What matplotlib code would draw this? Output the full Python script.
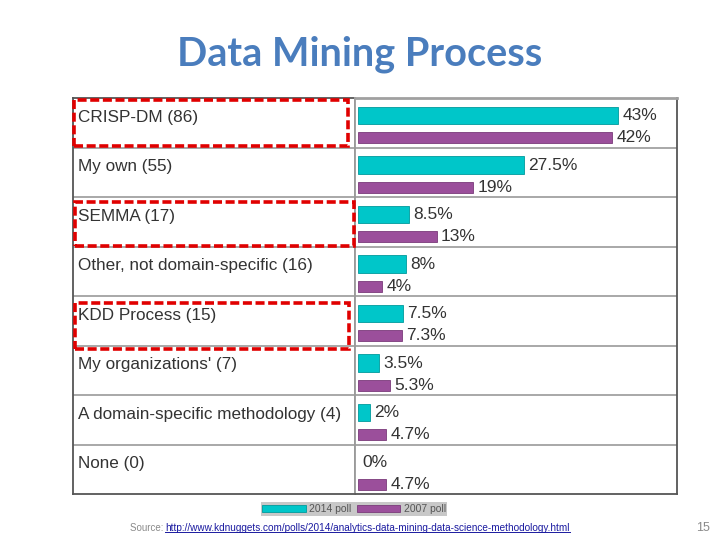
import matplotlib.pyplot as plt
from matplotlib.patches import Rectangle
from matplotlib.lines import Line2D

methods = ["CRISP-DM (86)", "My own (55)", "SEMMA (17)", "Other, not domain-specific (16)",
           "KDD Process (15)", "My organizations' (7)", "A domain-specific methodology (4)", "None (0)"]
poll_2014 = [43, 27.5, 8.5, 8, 7.5, 3.5, 2, 0]
poll_2007 = [42, 19, 13, 4, 7.3, 5.3, 4.7, 4.7]

TEAL = "#00c6c9"
PURPLE = "#9b4f9b"
TXT = "#333333"
W, H = 720, 540

fig = plt.figure(figsize=(7.2, 5.4), dpi=100)
fig.patch.set_facecolor("white")


def fx(px):
    return px / W


def fy(py):
    return 1 - py / H


top, bot = 98, 494
ax_lab = fig.add_axes([fx(73), fy(bot), fx(355 - 73), (bot - top) / H])
ax = fig.add_axes([fx(355), fy(bot), fx(677 - 355), (bot - top) / H])

n = len(methods)
for a in (ax_lab, ax):
    a.set_ylim(n, 0)
    a.set_xticks([])
    a.set_yticks([])
    for s in a.spines.values():
        s.set_color("#555555")
        s.set_linewidth(1.3)
    for i in range(1, n):
        a.axhline(i, color="#9a9a9a", lw=1.2)
ax_lab.set_xlim(0, 1)
ax_lab.spines["right"].set_color("#9a9a9a")
ax.spines["left"].set_color("#9a9a9a")
ax.spines["top"].set_color("#a0a0a0")
ax.spines["top"].set_linewidth(2)

# 6.05 px per percent, bars start 3px into the column
ppu = 6.05
ax.set_xlim(-3 / ppu, (677 - 355) / ppu - 3 / ppu)

rows = list(range(n))
b1 = ax.barh([r + 0.355 for r in rows], poll_2014, height=0.35, color=TEAL,
             edgecolor="#009a9c", lw=0.6, label="2014 poll")
b2 = ax.barh([r + 0.80 for r in rows], poll_2007, height=0.22, color=PURPLE,
             edgecolor="#7a3a7a", lw=0.6, label="2007 poll")
for rect, v in zip(b1, poll_2014):
    if v == 0:
        rect.set_linewidth(0)

for r, v in zip(rows, poll_2014):
    ax.text(v + 0.7, r + 0.355, f"{v:g}%", va="center", ha="left", fontsize=12.5,
            color=TXT, family="Liberation Sans")
for r, v in zip(rows, poll_2007):
    ax.text(v + 0.7, r + 0.80, f"{v:g}%", va="center", ha="left", fontsize=12.5,
            color=TXT, family="Liberation Sans")

for r, m in zip(rows, methods):
    ax_lab.text(0.018, r + 0.39, m, va="center", ha="left", fontsize=12.3,
                color=TXT, family="Liberation Sans")

# red dashed highlight boxes
boxes = [(74, 100, 348, 146), (75, 202, 354, 246), (75, 303, 349, 349)]
for x0, y0, x1, y1 in boxes:
    fig.patches.append(Rectangle((fx(x0), fy(y1)), fx(x1 - x0), (y1 - y0) / H,
                                 transform=fig.transFigure, fill=False, edgecolor="#e00000",
                                 lw=2.6, linestyle=(0, (2.5, 1.0)), zorder=10))

fig.text(fx(360), fy(54), "Data Mining Process", ha="center", va="center",
         fontsize=28.5, fontweight="bold", color="#4a7dbd", family="Lato")

leg = fig.legend(handles=[b1, b2], loc="center", bbox_to_anchor=(fx(354), fy(509)),
                 ncol=2, frameon=True, facecolor="#c8c8c8", edgecolor="none",
                 fancybox=False, handlelength=4.2, handleheight=0.6,
                 columnspacing=0.5, handletextpad=0.3, borderpad=0.15,
                 borderaxespad=0, framealpha=1, prop={"family": "Liberation Sans", "size": 7.5})
for t in leg.get_texts():
    t.set_color("#555555")

fig.text(fx(130), fy(528), "Source: ", ha="left", va="center", fontsize=7,
         color="#8a8a8a", family="Liberation Sans")
link = fig.text(fx(165), fy(528), "http://www.kdnuggets.com/polls/2014/analytics-data-mining-data-science-methodology.html",
                ha="left", va="center", fontsize=7.2, color="#1a1aa0", family="Liberation Sans")
fig.text(fx(703), fy(528), "15", ha="center", va="center", fontsize=9,
         color="#8a8a8a", family="Liberation Sans")

fig.canvas.draw()
bb = link.get_window_extent().transformed(fig.transFigure.inverted())
fig.add_artist(Line2D([bb.x0, bb.x1], [bb.y0 + 0.002, bb.y0 + 0.002], transform=fig.transFigure,
                      color="#1a1aa0", lw=0.7))

fig.savefig("out.png", dpi=100)
